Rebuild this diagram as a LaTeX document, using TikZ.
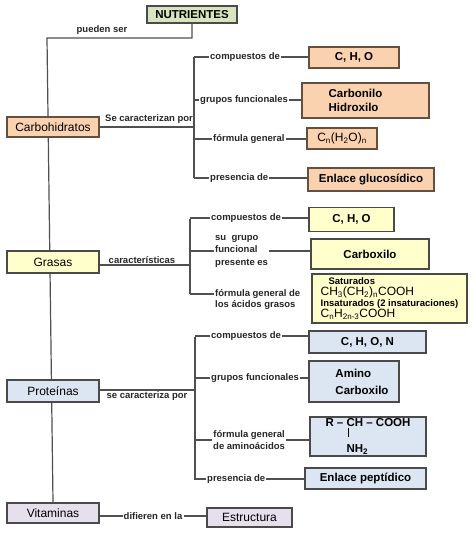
\documentclass[tikz,border=0pt]{standalone}
\usepackage{fontspec}
\setmainfont{Liberation Sans}
\usetikzlibrary{backgrounds}

\definecolor{nutfill}{HTML}{D7E4BD}
\definecolor{carbfill}{HTML}{FAD2B0}
\definecolor{grasfill}{HTML}{FFFFCC}
\definecolor{protfill}{HTML}{DCE6F2}
\definecolor{vitfill}{HTML}{E6E0EC}
\definecolor{edgecol}{HTML}{4A4A4A}
\definecolor{carbedge}{HTML}{65503F}
\definecolor{wirecol}{HTML}{505050}

\newcommand{\lblsize}{\fontsize{9.5}{11}\selectfont\bfseries}
\newcommand{\boxsize}{\fontsize{11.5}{13.5}\selectfont\bfseries}
\newcommand{\catsize}{\fontsize{12}{14}\selectfont}

\tikzset{
  box/.style={draw=edgecol, line width=1.6pt, inner sep=2pt, font=\boxsize},
  carbbox/.style={draw=carbedge, fill=carbfill},
  cat/.style={box, font=\catsize, minimum width=92pt},
  lbl/.style={inner sep=1pt, font=\lblsize, text=black!85},
  wire/.style={draw=wirecol, line width=1.2pt},
}

\begin{document}
\begin{tikzpicture}[x=1pt, y=-1pt]
  \useasboundingbox (0,0) rectangle (474,533);

  % root and the four groups
  \node[box, fill=nutfill, minimum width=90pt, minimum height=17pt] (nut) at (192,14.5) {NUTRIENTES};
  \node[cat, carbbox, minimum height=20pt] (carb) at (53,127) {Carbohidratos};
  \node[cat, fill=grasfill, minimum height=22pt] (gras) at (53,262) {Grasas};
  \node[cat, fill=protfill, minimum height=22pt] (prot) at (53,391) {Proteínas};
  \node[cat, fill=vitfill, minimum height=20pt] (vit) at (53,513) {Vitaminas};
  \coordinate (trk) at (47,38);
  \node[lbl] (pueden) at (102,30) {pueden ser};

  % carbohidratos
  \node[lbl, anchor=south] (secarb) at (149,125) {Se caracterizan por};
  \coordinate (cbt) at (194,57);
  \coordinate (cbb) at (194,178);
  \node[lbl, anchor=west] (ccomp) at (209,57) {compuestos de};
  \node[lbl, anchor=west] (cgrup) at (199,100) {grupos funcionales};
  \node[lbl, anchor=west] (cform) at (212,139) {fórmula general};
  \node[lbl, anchor=west] (cpres) at (209,178) {presencia de};
  \node[box, carbbox, minimum width=90pt, minimum height=21pt] (ccho) at (354,57.5) {C, H, O};
  \node[box, carbbox, minimum width=127pt, minimum height=35pt, align=left] (cgf) at (365.5,100.5)
    {Carbonilo\hspace*{20pt}\\Hidroxilo\hspace*{20pt}};
  \node[box, carbbox, minimum width=70pt, minimum height=21pt, font=\catsize] (cfor) at (342,138.5)
    {C\textsubscript{n}(H\textsubscript{2}O)\textsubscript{n}};
  \node[box, carbbox, minimum width=126pt, minimum height=23pt] (cenl) at (371,179.5) {Enlace glucosídico};

  % grasas
  \node[lbl, anchor=south] (cargras) at (142,265) {características};
  \coordinate (gbt) at (190,219);
  \coordinate (gbb) at (190,294);
  \node[lbl, anchor=west] (gcomp) at (210,218) {compuestos de};
  \node[lbl, anchor=west, align=left] (gsu) at (214,251) {su \ grupo\\[1.5pt]funcional\\[1.5pt]presente es};
  \node[lbl, anchor=north west, align=left] (gform) at (214,288) {fórmula general de\\[0.5pt]los ácidos grasos};
  \node[box, fill=grasfill, minimum width=85pt, minimum height=24pt] (gcho) at (351.5,219.5) {C, H, O};
  \node[box, fill=grasfill, minimum width=118pt, minimum height=30pt] (gcar) at (370,254) {Carboxilo};
  \node[box, fill=grasfill, minimum width=155pt, minimum height=49pt, align=left,
        font=\fontsize{11.5}{11}\selectfont] (gfor) at (389.5,298.5)
    {{\lblsize\hspace*{8pt}Saturados}\\
     {\catsize CH\textsubscript{3}(CH\textsubscript{2})\textsubscript{n}COOH}\\
     {\lblsize Insaturados (2 insaturaciones)}\\
     {\catsize C\textsubscript{n}H\textsubscript{2n-3}COOH}};

  % proteinas
  \node[lbl, anchor=north] (seprot) at (147,390) {se caracteriza por};
  \coordinate (pbt) at (195,337);
  \coordinate (pbb) at (195,480);
  \node[lbl, anchor=west] (pcomp) at (210,336) {compuestos de};
  \node[lbl, anchor=west] (pgrup) at (210,378) {grupos funcionales};
  \node[lbl, anchor=west, align=center] (pform) at (212,440) {fórmula general\\[0.5pt]de aminoácidos};
  \node[lbl, anchor=west] (ppres) at (206,479) {presencia de};
  \node[box, fill=protfill, minimum width=117pt, minimum height=22pt] (pchon) at (367.5,342) {C, H, O, N};
  \node[box, fill=protfill, minimum width=90pt, minimum height=41pt, align=left] (pgf) at (354,381.5)
    {\hspace*{16pt}Amino\\[3.5pt]\hspace*{16pt}Carboxilo};
  \node[box, fill=protfill, minimum width=116pt, minimum height=39pt, align=left] (pfor) at (368,436.5)
    {R – \rlap{\hspace{1.2pt}\rule[-10.5pt]{1.5pt}{9pt}}CH – COOH\\[6pt]\phantom{R – }NH\textsubscript{2}};
  \node[box, fill=protfill, minimum width=121pt, minimum height=21pt] (penl) at (365.5,478.5) {Enlace peptídico};

  % vitaminas
  \node[lbl] (vlab) at (153,516) {difieren en la};
  \node[box, fill=vitfill, minimum width=85pt, minimum height=19pt, font=\catsize] (estr) at (249.5,517.5) {Estructura};

  \begin{scope}[on background layer]
    \draw[wire] (nut.south) |- (trk) -- (vit.north);
    \draw[wire] (carb.east) -- (carb.east -| cbt);
    \draw[wire] (cbt) -- (cbb);
    \foreach \l/\b in {ccomp/ccho, cgrup/cgf, cform/cfor, cpres/cenl} {
      \draw[wire] (\l.west -| cbt) -- (\l.west);
      \draw[wire] (\l.east) -- (\l.east -| \b.west);
    }
    \draw[wire] (gras.east |- cargras.south) -- (cargras.south -| gbt);
    \draw[wire] (gbt) -- (gbb);
    \foreach \l/\b in {gcomp/gcho, gsu/gcar} {
      \draw[wire] (\l.west -| gbt) -- (\l.west);
      \draw[wire] (\l.east) -- (\l.east -| \b.west);
    }
    \draw[wire] (gbb) -- (gbb -| gform.west);
    \draw[wire] (prot.east |- seprot.north) -- (seprot.north -| pbt);
    \draw[wire] (pbt) -- (pbb);
    \foreach \l/\b in {pcomp/pchon, pgrup/pgf, pform/pfor, ppres/penl} {
      \draw[wire] (\l.west -| pbt) -- (\l.west);
      \draw[wire] (\l.east) -- (\l.east -| \b.west);
    }
    \draw[wire] (vlab.west -| vit.east) -- (vlab.west);
    \draw[wire] (vlab.east) -- (vlab.east -| estr.west);
  \end{scope}
\end{tikzpicture}
\end{document}
